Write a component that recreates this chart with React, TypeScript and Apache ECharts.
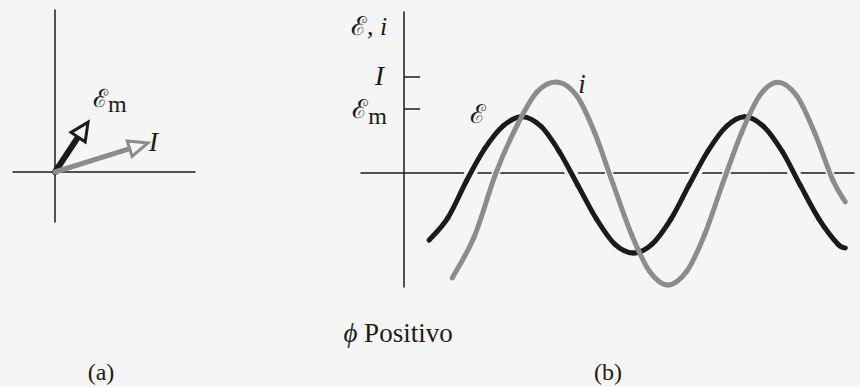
import { useEffect, useRef } from "react";
import * as echarts from "echarts";

// (b) ℰ(ωt): phase angle in degrees, amplitude in units of ℰm
const emfAngle = [40, 70, 100, 129, 159, 189, 219, 248, 278, 308, 337, 367, 397, 427, 456, 486, 516, 545, 575, 605, 634, 664, 694, 706];
const emfValue = [-1.05, -0.7, -0.12, 0.38, 0.74, 0.88, 0.73, 0.34, -0.19, -0.72, -1.11, -1.25, -1.11, -0.72, -0.19, 0.34, 0.73, 0.88, 0.73, 0.34, -0.19, -0.72, -1.11, -1.17];

// (b) i(ωt): leads ℰ, larger amplitude
const currentAngle = [77, 112, 147, 181, 213, 246, 276, 305, 334, 364, 393, 422, 452, 481, 510, 540, 569, 598, 628, 657, 686, 706];
const currentValue = [-1.64, -1.0, 0, 0.75, 1.27, 1.42, 1.21, 0.63, -0.16, -0.96, -1.54, -1.75, -1.54, -0.96, -0.16, 0.63, 1.21, 1.42, 1.21, 0.63, -0.11, -0.45];

// (b) marked amplitudes on the vertical axis
const amplitudeTicks = [1, 1.5];
const amplitudeTickLabels = ["{s|ℰ}{m|m}", "{it|I}"];

// (a) phasor tips (horizontal, vertical components)
const phasorNames = ["ℰm", "I"];
const phasorX = [0.57, 1.6];
const phasorY = [0.86, 0.5];

const BG = "#f5f5f5";
const INK = "#1b1b1b";
const GREY = "#8c8c8c";
const SERIF = '"Liberation Serif", "DejaVu Serif", "Times New Roman", serif';

const hiddenAxisParts = {
  axisTick: { show: false },
  axisLabel: { show: false },
  splitLine: { show: false },
};
const axisLine = { onZero: true, lineStyle: { color: INK, width: 1.5 } };

export default function App() {
  const ref = useRef<HTMLDivElement>(null);

  useEffect(() => {
    document.body.style.margin = "0";
    document.body.style.background = BG;
    const chart = echarts.init(ref.current!, undefined, { renderer: "svg" });

    const phasorStyles = [
      { color: INK, shaft: 6, head: 18, half: 8.5 },
      { color: GREY, shaft: 5, head: 19, half: 8 },
    ];

    // A waveform drawn as a Catmull-Rom spline (cubic Bézier pieces) through
    // its sampled points, placed with the (b) axes. The wider background-
    // coloured pass cuts the horizontal axis where the curve crosses it.
    const curve = (angles: number[], values: number[], color: string, width: number, name?: string) => ({
      name,
      type: "custom",
      xAxisIndex: 1,
      yAxisIndex: 1,
      silent: true,
      data: angles.map((a, i) => [a, values[i]]),
      renderItem: (params: any, api: any) => {
        const i = params.dataIndex;
        const n = angles.length;
        if (i >= n - 1) return null;
        const p = (k: number) => {
          const j = Math.max(0, Math.min(n - 1, k));
          return api.coord([angles[j], values[j]]);
        };
        const p0 = p(i - 1);
        const p1 = p(i);
        const p2 = p(i + 1);
        const p3 = p(i + 2);
        return {
          type: "bezierCurve",
          shape: {
            x1: p1[0],
            y1: p1[1],
            x2: p2[0],
            y2: p2[1],
            cpx1: p1[0] + (p2[0] - p0[0]) / 6,
            cpy1: p1[1] + (p2[1] - p0[1]) / 6,
            cpx2: p2[0] - (p3[0] - p1[0]) / 6,
            cpy2: p2[1] - (p3[1] - p1[1]) / 6,
          },
          style: { stroke: color, lineWidth: width, fill: null, lineCap: "round" },
        };
      },
    });

    const option: any = {
      animation: false,
      backgroundColor: BG,
      grid: [
        { left: 13, top: 10, width: 182, height: 212 },
        { left: 361, top: 12, width: 493, height: 275 },
      ],
      xAxis: [
        { gridIndex: 0, type: "value", min: -0.724, max: 2.414, axisLine, ...hiddenAxisParts },
        { gridIndex: 1, type: "value", min: -69, max: 720, axisLine, ...hiddenAxisParts },
      ],
      yAxis: [
        { gridIndex: 0, type: "value", min: -0.862, max: 2.793, axisLine, ...hiddenAxisParts },
        {
          gridIndex: 1,
          type: "value",
          min: -1.781,
          max: 2.516,
          axisLine,
          splitLine: { show: false },
          axisTick: {
            show: true,
            inside: true,
            length: 16,
            customValues: amplitudeTicks,
            lineStyle: { color: INK, width: 1.5 },
          },
          axisLabel: {
            show: true,
            customValues: amplitudeTicks,
            margin: -26,
            formatter: (v: number) => amplitudeTickLabels[amplitudeTicks.indexOf(v)] ?? "",
            rich: {
              s: { fontFamily: SERIF, fontSize: 26, color: INK, lineHeight: 26, verticalAlign: "top" },
              m: { fontFamily: SERIF, fontSize: 24, color: INK, lineHeight: 24, padding: [14, 0, 0, 0] },
              it: { fontFamily: SERIF, fontSize: 28, fontStyle: "italic", color: INK, padding: [0, 3, 4, 0] },
            },
          },
          name: "{s|ℰ}{n|, }{it|i}",
          nameLocation: "end",
          nameGap: -14,
          nameTextStyle: {
            align: "right",
            verticalAlign: "middle",
            padding: [0, 17, 0, 0],
            rich: {
              s: { fontFamily: SERIF, fontSize: 26, color: INK },
              n: { fontFamily: SERIF, fontSize: 26, color: INK },
              it: { fontFamily: SERIF, fontSize: 26, fontStyle: "italic", color: INK },
            },
          },
        },
      ],
      series: [
        {
          type: "custom",
          xAxisIndex: 0,
          yAxisIndex: 0,
          silent: true,
          data: phasorX.map((x, i) => [x, phasorY[i], i]),
          renderItem: (_params: any, api: any) => {
            const i = api.value(2);
            const st = phasorStyles[i];
            const o = api.coord([0, 0]);
            const t = api.coord([api.value(0), api.value(1)]);
            const dx = t[0] - o[0];
            const dy = t[1] - o[1];
            const len = Math.hypot(dx, dy);
            const ux = dx / len;
            const uy = dy / len;
            const px = -uy;
            const py = ux;
            const bx = t[0] - ux * st.head;
            const by = t[1] - uy * st.head;
            const label =
              i === 0
                ? {
                    type: "text",
                    x: t[0] + 5,
                    y: t[1] - 24,
                    style: {
                      text: "{s|ℰ}{m|m}",
                      align: "left",
                      verticalAlign: "middle",
                      rich: {
                        s: { fontFamily: SERIF, fontSize: 25, fill: INK, lineHeight: 25, verticalAlign: "top" },
                        m: { fontFamily: SERIF, fontSize: 24, fill: INK, lineHeight: 24, padding: [12, 0, 0, 0] },
                      },
                    },
                  }
                : {
                    type: "text",
                    x: t[0] + 1,
                    y: t[1] - 2,
                    style: {
                      text: phasorNames[i],
                      fontFamily: SERIF,
                      fontSize: 28,
                      fontStyle: "italic",
                      fill: INK,
                      align: "left",
                      verticalAlign: "middle",
                    },
                  };
            return {
              type: "group",
              children: [
                {
                  type: "line",
                  shape: { x1: o[0], y1: o[1], x2: bx + ux * 2, y2: by + uy * 2 },
                  style: { stroke: st.color, lineWidth: st.shaft, lineCap: "round" },
                },
                {
                  type: "polygon",
                  shape: {
                    points: [
                      [t[0], t[1]],
                      [bx + px * st.half, by + py * st.half],
                      [bx - px * st.half, by - py * st.half],
                    ],
                  },
                  style: { fill: BG, stroke: st.color, lineWidth: 3, lineJoin: "miter" },
                },
                label,
              ],
            };
          },
        },
        curve(emfAngle, emfValue, BG, 12),
        curve(currentAngle, currentValue, BG, 8),
        curve(emfAngle, emfValue, INK, 5, "ℰ"),
        curve(currentAngle, currentValue, GREY, 5, "i"),
      ],
      graphic: [
        {
          type: "text",
          x: 478,
          y: 114,
          style: { text: "ℰ", fontFamily: SERIF, fontSize: 26, fill: INK, align: "center", verticalAlign: "middle" },
        },
        {
          type: "text",
          x: 582,
          y: 84,
          style: { text: "i", fontFamily: SERIF, fontSize: 27, fontStyle: "italic", fill: INK, align: "center", verticalAlign: "middle" },
        },
        {
          type: "text",
          x: 398,
          y: 333,
          style: {
            text: "{it|ϕ} Positivo",
            align: "center",
            verticalAlign: "middle",
            rich: {
              it: { fontFamily: SERIF, fontSize: 27, fontStyle: "italic", fill: INK },
            },
            fontFamily: SERIF,
            fontSize: 27,
            fill: INK,
          },
        },
        {
          type: "text",
          x: 101,
          y: 372,
          style: { text: "(a)", fontFamily: SERIF, fontSize: 24, fill: INK, align: "center", verticalAlign: "middle" },
        },
        {
          type: "text",
          x: 608,
          y: 372,
          style: { text: "(b)", fontFamily: SERIF, fontSize: 24, fill: INK, align: "center", verticalAlign: "middle" },
        },
      ],
    };

    chart.setOption(option);
    return () => chart.dispose();
  }, []);

  return (
    <div
      ref={ref}
      style={{ position: "absolute", left: 0, top: 0, width: 860, height: 387 }}
    />
  );
}
